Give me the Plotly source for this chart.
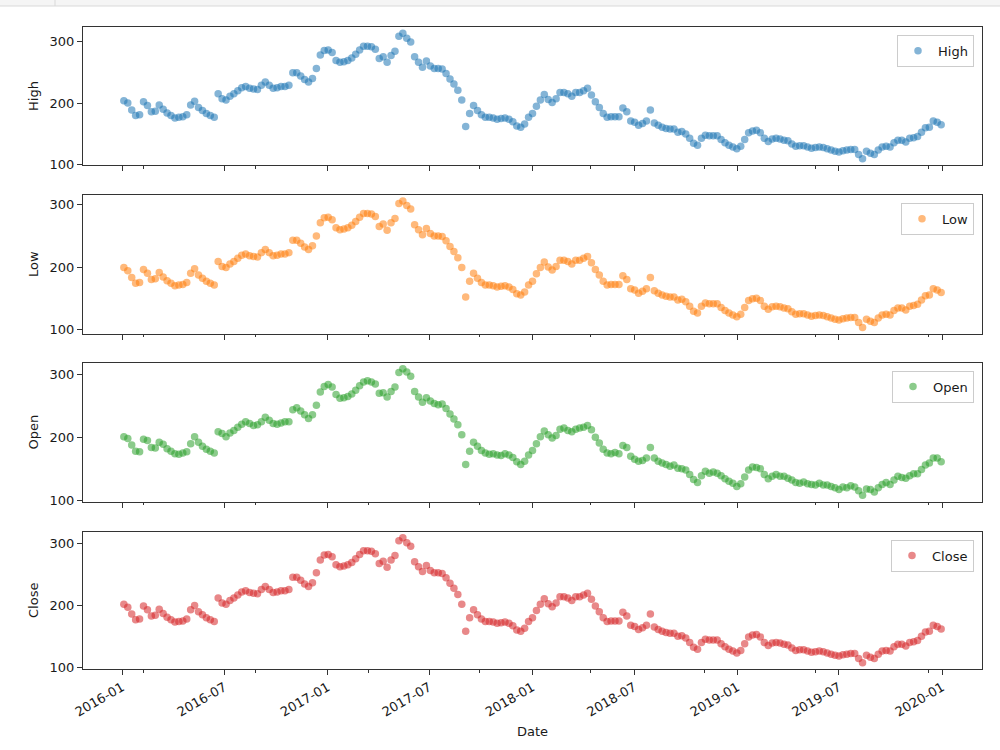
import pandas as pd
import plotly.graph_objects as go
from plotly.subplots import make_subplots

# Weekly sampling dates (Mondays) from 2016-01-04 to 2019-12-30
dates = pd.date_range("2016-01-04", "2019-12-30", freq="W-MON")

high = [
    204,200,189,180,181,202,196,186,187,197,
    190,184,180,176,177,178,181,197,203,193,
    188,183,180,177,215,207,205,211,215,220,
    225,227,224,223,222,229,234,229,224,225,
    227,227,229,249,249,244,238,234,240,256,
    278,285,286,282,269,266,267,269,273,279,
    286,292,292,291,287,272,275,266,277,284,
    308,313,305,299,275,266,258,268,260,256,
    256,255,248,239,231,221,205,162,183,196,
    188,181,177,177,176,174,175,176,174,170,
    163,161,166,177,183,
    195,205,214,206,201,207,217,217,215,211,
    217,217,220,224,213,202,193,183,177,178,
    178,178,192,186,171,169,164,167,171,189,
    168,164,161,159,158,158,153,154,150,143,
    135,132,143,148,147,147,147,141,136,132,
    129,126,130,141,152,155,156,152,143,138,
    142,143,142,140,139,134,130,131,131,129,
    127,128,129,128,126,124,122,121,123,124,
    125,125,117,110,122,119,117,124,129,130,
    129,136,140,140,137,143,144,146,153,160,
    161,171,169,165,
]

low = [
    199,194,183,174,175,196,190,180,181,191,
    184,178,174,170,171,172,175,190,197,187,
    182,177,174,171,209,201,199,205,209,214,
    219,221,218,217,216,223,228,223,218,219,
    221,221,223,243,243,238,232,228,234,250,
    271,279,280,276,263,260,261,263,267,273,
    280,286,286,285,281,265,269,259,271,278,
    302,306,299,293,268,260,252,262,254,250,
    250,249,242,233,225,215,199,152,177,190,
    182,175,171,171,170,168,169,170,168,164,
    157,155,160,171,177,
    189,199,208,200,195,201,211,211,209,205,
    211,211,214,217,207,196,187,177,171,172,
    172,172,186,180,165,163,158,161,165,183,
    162,158,155,153,152,152,147,148,144,137,
    129,126,137,142,141,141,141,135,130,126,
    123,120,124,135,146,149,150,146,137,132,
    136,137,136,134,133,128,124,125,125,123,
    121,122,123,122,120,118,116,115,117,118,
    119,119,111,103,116,113,111,118,123,124,
    123,130,134,134,131,137,138,140,147,154,
    155,165,163,159,
]

open_ = [
    201,198,188,178,177,197,195,184,183,192,
    189,182,178,174,173,175,177,190,201,192,
    186,181,178,175,209,206,201,207,211,216,
    221,225,222,219,220,225,232,227,222,221,
    223,225,225,244,247,242,236,230,236,251,
    272,281,284,280,268,262,263,265,269,275,
    282,288,290,288,285,270,271,264,273,280,
    303,309,304,297,273,264,256,263,258,254,
    252,253,246,237,229,220,204,157,178,192,
    186,179,175,173,174,172,171,174,172,168,
    161,157,162,172,179,
    190,201,210,204,199,203,213,215,211,209,
    213,215,216,219,212,200,191,181,175,174,
    176,174,187,184,170,165,162,163,167,184,
    167,162,159,157,154,156,151,150,148,141,
    133,128,139,146,143,145,143,139,134,130,
    127,122,126,137,148,153,152,150,141,134,
    138,141,138,138,135,132,128,127,129,126,
    125,124,127,124,124,122,120,117,121,120,
    123,121,115,108,118,117,113,120,125,128,
    125,132,138,136,135,139,142,142,149,156,
    159,167,167,161,
]

close = [
    202,197,186,177,178,199,193,183,184,194,
    187,181,177,173,174,175,178,193,200,190,
    185,180,177,174,212,204,202,208,212,217,
    222,224,221,220,219,226,231,226,221,222,
    224,224,226,246,246,241,235,231,237,253,
    274,282,283,279,266,263,264,266,270,276,
    283,289,289,288,284,268,272,262,274,281,
    305,310,302,296,271,263,255,265,257,253,
    253,252,245,236,228,218,202,158,180,193,
    185,178,174,174,173,171,172,173,171,167,
    160,158,163,174,180,
    192,202,211,203,198,204,214,214,212,208,
    214,214,217,220,210,199,190,180,174,175,
    175,175,189,183,168,166,161,164,168,186,
    165,161,158,156,155,155,150,151,147,140,
    132,129,140,145,144,144,144,138,133,129,
    126,123,127,138,149,152,153,149,140,135,
    139,140,139,137,136,131,127,128,128,126,
    124,125,126,125,123,121,119,118,120,121,
    122,122,114,107,119,116,114,121,126,127,
    126,133,137,137,134,140,141,143,150,157,
    158,168,166,162,
]

series_names = ["High", "Low", "Open", "Close"]
series_values = [high, low, open_, close]
colors = ["#1f77b4", "#ff7f0e", "#2ca02c", "#d62728"]

x_tick_labels = ["2016-01", "2016-07", "2017-01", "2017-07", "2018-01",
                 "2018-07", "2019-01", "2019-07", "2020-01"]
x_minor_ticks = ["2016-02-08", "2016-08-25", "2017-03-15", "2017-09-29",
                 "2018-04-15", "2018-11-03", "2019-05-21", "2019-12-08"]

FONT = "DejaVu Sans"
TXT = "#1a1a1a"

fig = make_subplots(rows=4, cols=1, shared_xaxes=True)

# plot area in px: x 83..982, y 27..669
L, R, T, B = 83, 18, 27, 81
H_PLOT = 750 - T - B
panel_px = [(26.7, 165.0), (194.7, 333.7), (362.5, 501.5), (531.5, 669.0)]

span = dates[-1] - dates[0]
x_range = [dates[0] - span * 0.05, dates[-1] + span * 0.05]

legend_keys = ["legend", "legend2", "legend3", "legend4"]

for i, (name, vals, col) in enumerate(zip(series_names, series_values, colors)):
    assert len(vals) == len(dates), (name, len(vals))
    fig.add_trace(
        go.Scatter(
            x=dates, y=vals, mode="markers", name=name,
            marker=dict(color=col, size=7.5, opacity=0.55, line=dict(width=0)),
            legend=legend_keys[i],
        ),
        row=i + 1, col=1,
    )
    top_px, bot_px = panel_px[i]
    d0 = (750 - B - bot_px) / H_PLOT
    d1 = (750 - B - top_px) / H_PLOT
    vmin, vmax = min(vals), max(vals)
    pad = (vmax - vmin) * 0.05
    yname = "yaxis" if i == 0 else f"yaxis{i+1}"
    xname = "xaxis" if i == 0 else f"xaxis{i+1}"
    fig.layout[yname].update(
        domain=[max(0, d0), min(1, d1)],
        range=[vmin - pad, vmax + pad],
        tickvals=[100, 200, 300],
        ticks="outside", ticklen=5, tickwidth=1, tickcolor="#333",
        showline=True, linecolor="#333", linewidth=1, mirror=True,
        showgrid=False, zeroline=False,
        tickfont=dict(family=FONT, size=13, color=TXT),
        title=dict(text=name, font=dict(family=FONT, size=13, color=TXT), standoff=8),
    )
    fig.layout[xname].update(
        range=x_range,
        tickvals=[pd.Timestamp(t + "-01") for t in x_tick_labels],
        ticktext=x_tick_labels,
        showticklabels=(i == 3),
        ticks="outside", ticklen=5, tickwidth=1, tickcolor="#333",
        minor=dict(tickvals=[pd.Timestamp(t) for t in x_minor_ticks],
                   ticks="outside", ticklen=2.5, tickcolor="#333", showgrid=False),
        showline=True, linecolor="#333", linewidth=1, mirror=True,
        showgrid=False, zeroline=False,
        tickangle=-30,
        tickfont=dict(family=FONT, size=13, color=TXT),
    )
    fig.layout[legend_keys[i]] = dict(
        x=(974 - L) / (1000 - L - R), xanchor="right",
        y=d1 - 8 / H_PLOT, yanchor="top",
        bgcolor="rgba(255,255,255,0.85)", bordercolor="#cccccc", borderwidth=1,
        font=dict(family=FONT, size=13, color=TXT),
        itemwidth=30,
    )

fig.layout.xaxis4.title = dict(text="Date", font=dict(family=FONT, size=13, color=TXT), standoff=8)

# notebook chrome strip at the very top
W_PLOT = 1000 - L - R
def px_x(px):
    return (px - L) / W_PLOT
def px_y(py):
    return (750 - B - py) / H_PLOT
fig.add_shape(type="rect", xref="paper", yref="paper",
              x0=px_x(-2), x1=px_x(1002), y0=px_y(6), y1=px_y(-2),
              line=dict(color="#d9d9d9", width=1), fillcolor="#f5f5f5", layer="below")
fig.add_shape(type="line", xref="paper", yref="paper",
              x0=px_x(55), x1=px_x(55), y0=px_y(6), y1=px_y(0),
              line=dict(color="#d9d9d9", width=1))

fig.update_layout(
    width=1000, height=750,
    margin=dict(l=L, r=R, t=T, b=B, autoexpand=False),
    plot_bgcolor="white", paper_bgcolor="white",
    font=dict(family=FONT, size=13, color=TXT),
    showlegend=True,
)

fig.write_html("out.html")
